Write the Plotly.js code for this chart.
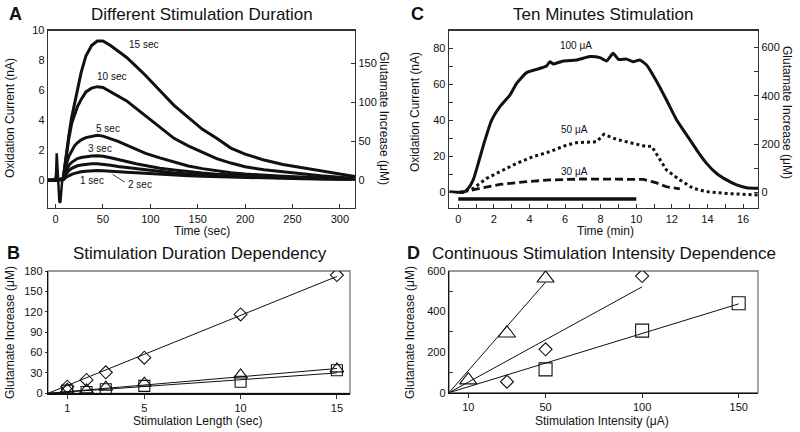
<!DOCTYPE html>
<html><head><meta charset="utf-8">
<script src="https://cdn.plot.ly/plotly-3.0.1.min.js"></script>
<style>html,body{margin:0;padding:0;background:#fff}#chart{width:800px;height:432px}</style>
</head><body><div id="chart"></div>
<script>
// ---------- Panel A: Different Stimulation Duration (nA vs sec) ----------
const timeA  = [-8, 0, 8, 11, 14, 17, 20, 23, 27, 32, 38, 44, 50, 58, 66, 75, 85, 95, 110, 125, 140, 155, 170, 185, 200, 220, 240, 260, 280, 300, 316];
const dur15  = [0, 0, 0.1, 1.6, 3.0, 4.2, 5.1, 6.2, 7.2, 8.3, 9.0, 9.3, 9.3, 9.0, 8.6, 8.2, 7.6, 7.0, 6.0, 5.0, 4.2, 3.4, 2.8, 2.15, 1.75, 1.35, 1.05, 0.85, 0.6, 0.4, 0.25];
const dur10  = [0, 0, 0.1, 1.5, 2.8, 3.8, 4.4, 4.9, 5.4, 5.9, 6.15, 6.25, 6.2, 5.9, 5.6, 5.3, 4.8, 4.3, 3.5, 2.8, 2.3, 1.85, 1.45, 1.15, 0.9, 0.7, 0.55, 0.42, 0.3, 0.2, 0.12];
const dur5   = [0, 0, 0.1, 1.0, 1.6, 2.0, 2.3, 2.5, 2.7, 2.85, 2.95, 3.0, 2.95, 2.8, 2.6, 2.35, 2.05, 1.8, 1.5, 1.2, 0.95, 0.78, 0.62, 0.5, 0.42, 0.33, 0.27, 0.22, 0.18, 0.14, 0.1];
const dur3   = [0, 0, 0.05, 0.6, 1.0, 1.2, 1.35, 1.45, 1.52, 1.58, 1.62, 1.63, 1.6, 1.5, 1.4, 1.25, 1.1, 0.98, 0.8, 0.68, 0.57, 0.48, 0.41, 0.35, 0.3, 0.25, 0.2, 0.17, 0.14, 0.12, 0.1];
const dur2   = [0, 0, 0.05, 0.4, 0.65, 0.8, 0.9, 0.97, 1.02, 1.07, 1.1, 1.1, 1.07, 1.0, 0.92, 0.85, 0.76, 0.68, 0.58, 0.49, 0.42, 0.36, 0.31, 0.27, 0.23, 0.19, 0.16, 0.13, 0.11, 0.09, 0.08];
const dur1   = [0, 0, 0.03, 0.2, 0.32, 0.4, 0.46, 0.52, 0.57, 0.61, 0.64, 0.65, 0.64, 0.62, 0.58, 0.54, 0.5, 0.46, 0.4, 0.35, 0.31, 0.27, 0.24, 0.21, 0.19, 0.16, 0.13, 0.11, 0.09, 0.07, 0.06];
const artifactT = [-0.5, 0.5, 1.2, 2.2, 3.0, 4.0, 5.0, 6.0, 7.0, 8.0];
const artifactV = [0, 0.4, 1.8, 0.4, -0.8, -1.4, -1.5, -0.6, 0, 0.1];
const durLabels = ['15 sec', '10 sec', '5 sec', '3 sec', '1 sec', '2 sec'];
const durLabelT = [93, 59, 55, 46.5, 38.8, 89];
const durLabelV = [9.07, 6.93, 3.47, 2.15, 0.0, -0.27];
const leaderT = [73, 60];
const leaderV = [-0.12, 0.4];

// ---------- Panel C: Ten Minutes Stimulation (nA vs min) ----------
const time100 = [-0.5, 0, 0.28, 0.56, 0.84, 1.12, 1.5, 1.87, 2.34, 2.9, 3.28, 3.84, 4.4, 4.96, 5.15, 5.34, 5.9, 6.65, 7.4, 7.96, 8.33, 8.7, 9.0, 9.46, 9.83, 10.2, 10.58, 11.1, 11.7, 12.27, 12.83, 13.4, 13.95, 14.5, 15.07, 15.64, 16.2, 16.85];
const cur100  = [0.4, 0, 0, 2.2, 6.9, 16, 29, 40, 47.6, 54, 60.5, 66.5, 68.3, 70.2, 72.6, 71.3, 73, 73.5, 75.4, 74.8, 73, 77.2, 73.9, 74, 72.6, 73.5, 70.7, 62.4, 51.3, 40.2, 31.9, 23.5, 16.1, 10.6, 6.9, 4.1, 2.6, 2.2];
const time50  = [0.1, 0.84, 1.6, 2.34, 3.28, 4.2, 5.15, 6.1, 6.65, 7.77, 8.18, 8.9, 9.83, 10.58, 10.86, 11.24, 11.7, 12.45, 13.2, 13.95, 15.07, 16.85];
const cur50   = [0, 2.2, 7.8, 11.5, 16.1, 19.8, 22.6, 26.3, 27.6, 28.1, 32.2, 29.4, 27.2, 25.4, 25.7, 19.8, 12.4, 6.9, 2.2, 0.4, -0.6, -1.5];
const time30  = [0.1, 1.03, 2.34, 3.84, 5.15, 7.0, 8.9, 10.4, 11.1, 11.7, 12.45];
const cur30   = [0, 1.9, 4.4, 5.9, 6.9, 7.4, 7.2, 7.2, 5.4, 3.1, 1.9];
const stimBarT = [0, 10];
const stimBarV = [-3.7, -3.7];
const intLabels = ['100 μA', '50 μA', '30 μA'];
const intLabelT = [6.6, 6.55, 6.55];
const intLabelV = [81.3, 35, 11.5];

// ---------- Panel B: Stimulation Duration Dependency ----------
const stimLength = [1, 2, 3, 5, 10, 15];
const durDiamond = [9.7, 19.6, 30.9, 52.4, 116, 174];
const durTriangle = [6, 5, 9, 15, 27, 36];
const durSquare = [4, 2, 6, 11, 17, 34];
const durFitX = [0, 15];
const durFitDiamond = [0, 172];
const durFitTriangle = [0, 36.5];
const durFitSquare = [0, 30];

// ---------- Panel D: Continuous Stimulation Intensity Dependence ----------
const triIntensity = [10, 30, 50];
const triGlu = [62, 293, 564];
const diaIntensity = [30, 50, 100];
const diaGlu = [54, 214, 575];
const sqIntensity = [50, 100, 150];
const sqGlu = [115, 306, 441];
const triFitX = [0, 50], triFitY = [0, 545];
const diaFitX = [0, 100], diaFitY = [0, 522];
const sqFitX = [0, 150], sqFitY = [0, 438];

// ---------- drawing ----------
const FONT = 'Liberation Sans, Arial, sans-serif';
const K = '#111';
const px = x => x / 800, py = y => 1 - y / 432;

const line = (x, y, xa, ya, extra) => Object.assign({x, y, xaxis: xa, yaxis: ya, mode: 'lines', type: 'scatter',
  line: {color: K, width: 3}, hoverinfo: 'skip', showlegend: false}, extra || {});
const mk = (x, y, xa, ya, sym, size) => ({x, y, xaxis: xa, yaxis: ya, mode: 'markers', type: 'scatter', showlegend: false,
  marker: {symbol: sym, size: size, color: K, line: {color: K, width: 1.1}}});

const traces = [];
// A
[dur1, dur2, dur3, dur5, dur10, dur15].forEach(v => traces.push(line(timeA, v, 'x', 'y', {line: {color: K, width: 3}})));
traces.push(line(artifactT, artifactV, 'x', 'y', {line: {color: K, width: 2.5}}));
traces.push(line(leaderT, leaderV, 'x', 'y', {line: {color: K, width: 0.8}}));
// C
traces.push(line(time100, cur100, 'x2', 'y2', {line: {color: K, width: 3, shape: 'spline', smoothing: 0.5}}));
traces.push(line(time50, cur50, 'x2', 'y2', {line: {color: K, width: 3, dash: 'dot'}}));
traces.push(line(time30, cur30, 'x2', 'y2', {line: {color: K, width: 2.8, dash: '8px,4px'}}));
traces.push(line(stimBarT, stimBarV, 'x2', 'y2', {line: {color: K, width: 3.5}}));
// B
traces.push(line(durFitX, durFitDiamond, 'x3', 'y3', {line: {color: K, width: 1}}));
traces.push(line(durFitX, durFitTriangle, 'x3', 'y3', {line: {color: K, width: 1}}));
traces.push(line(durFitX, durFitSquare, 'x3', 'y3', {line: {color: K, width: 1}}));
traces.push(mk(stimLength, durDiamond, 'x3', 'y3', 'diamond-open', 10));
traces.push(mk(stimLength, durTriangle, 'x3', 'y3', 'triangle-up-open', 12));
traces.push(mk(stimLength, durSquare, 'x3', 'y3', 'square-open', 11));
// D
traces.push(line(triFitX, triFitY, 'x4', 'y4', {line: {color: K, width: 1}}));
traces.push(line(diaFitX, diaFitY, 'x4', 'y4', {line: {color: K, width: 1}}));
traces.push(line(sqFitX, sqFitY, 'x4', 'y4', {line: {color: K, width: 1}}));
traces.push(mk(triIntensity, triGlu, 'x4', 'y4', 'triangle-up-open', 15));
traces.push(mk(diaIntensity, diaGlu, 'x4', 'y4', 'diamond-open', 10));
traces.push(mk(sqIntensity, sqGlu, 'x4', 'y4', 'square-open', 13));
// dummy traces for right axes
traces.push({x: [0], y: [0], xaxis: 'x', yaxis: 'y5', mode: 'markers', marker: {opacity: 0}, showlegend: false, hoverinfo: 'skip'});
traces.push({x: [0], y: [0], xaxis: 'x2', yaxis: 'y6', mode: 'markers', marker: {opacity: 0}, showlegend: false, hoverinfo: 'skip'});

const tickFont = {family: FONT, size: 11, color: K};
const ax = extra => Object.assign({showgrid: false, zeroline: false, showline: true, linecolor: '#333', linewidth: 1.3,
  tickfont: tickFont, ticklen: 4, tickcolor: '#333', tickwidth: 1, fixedrange: true}, extra);

const dA = {x: [px(48), px(355)], y: [py(208), py(30.5)]};
const dC = {x: [px(449), px(758)], y: [py(208), py(30.5)]};
const dB = {x: [px(48), px(350)], y: [py(393.3), py(271)]};
const dD = {x: [px(449), px(758)], y: [py(392.7), py(271)]};

const layout = {
  width: 800, height: 432, margin: {l: 0, r: 0, t: 0, b: 0}, paper_bgcolor: '#fff', plot_bgcolor: 'rgba(0,0,0,0)',
  showlegend: false, font: {family: FONT, color: K},
  xaxis: ax({domain: dA.x, anchor: 'y', range: [-8, 316], tickmode: 'array', tickvals: [0, 50, 100, 150, 200, 250, 300], ticks: 'inside', mirror: true}),
  yaxis: ax({domain: dA.y, anchor: 'x', range: [-1.85, 10], tickmode: 'array', tickvals: [0, 2, 4, 6, 8, 10], ticks: '', mirror: true}),
  yaxis5: ax({overlaying: 'y', side: 'right', anchor: 'x', range: [-35.6, 192.3], tickmode: 'array', tickvals: [0, 50, 100, 150], ticks: 'inside'}),
  xaxis2: ax({domain: dC.x, anchor: 'y2', range: [-0.52, 16.84], tickmode: 'array', tickvals: [0, 2, 4, 6, 8, 10, 12, 14, 16], ticks: 'inside', mirror: true,
    minor: {ticks: 'inside', dtick: 1, tick0: 0, ticklen: 4, tickcolor: '#333'}}),
  yaxis2: ax({domain: dC.y, anchor: 'x2', range: [-8.7, 89.9], tickmode: 'array', tickvals: [0, 20, 40, 60, 80], ticks: 'inside', mirror: true,
    minor: {ticks: 'inside', dtick: 10, tick0: 0, ticklen: 4, tickcolor: '#333'}}),
  yaxis6: ax({overlaying: 'y2', side: 'right', anchor: 'x2', range: [-64.8, 669.8], tickmode: 'array', tickvals: [0, 200, 400, 600], ticks: 'inside',
    minor: {ticks: 'inside', dtick: 100, tick0: 0, ticklen: 4, tickcolor: '#333'}}),
  xaxis3: ax({domain: dB.x, anchor: 'y3', range: [0, 15.68], tickmode: 'array', tickvals: [1, 5, 10, 15], ticks: 'outside', linecolor: K}),
  yaxis3: ax({domain: dB.y, anchor: 'x3', range: [0, 180], tickmode: 'array', tickvals: [0, 30, 60, 90, 120, 150, 180], ticks: 'outside', ticklen: 2, linecolor: K}),
  xaxis4: ax({domain: dD.x, anchor: 'y4', range: [0, 160], tickmode: 'array', tickvals: [10, 50, 100, 150], ticks: 'outside', linecolor: K}),
  yaxis4: ax({domain: dD.y, anchor: 'x4', range: [0, 600], tickmode: 'array', tickvals: [0, 200, 400, 600], ticks: 'inside', ticklen: 0, linecolor: K,
    minor: {ticks: 'inside', dtick: 200, tick0: 100, ticklen: 4, tickcolor: '#333'}}),
  shapes: [
    {type: 'rect', xref: 'paper', yref: 'paper', x0: dB.x[0], x1: dB.x[1], y0: dB.y[0], y1: dB.y[1], line: {color: '#777', width: 1.3}, layer: 'below'},
    {type: 'rect', xref: 'paper', yref: 'paper', x0: dD.x[0], x1: dD.x[1], y0: dD.y[0], y1: dD.y[1], line: {color: '#777', width: 1.3}, layer: 'below'}
  ],
  annotations: []
};

const A = layout.annotations;
const txt = (text, x, y, size, extra) => A.push(Object.assign({text, x: px(x), y: py(y), xref: 'paper', yref: 'paper', showarrow: false,
  font: {family: FONT, size, color: K}, xanchor: 'center', yanchor: 'middle'}, extra || {}));
// panel letters and titles
txt('<b>A</b>', 15, 14, 18);
txt('Different Stimulation Duration', 202, 14, 17);
txt('<b>C</b>', 417, 14, 18);
txt('Ten Minutes Stimulation', 603, 14, 17);
txt('<b>B</b>', 13, 253, 18);
txt('Stimulation Duration Dependency', 200, 253, 17);
txt('<b>D</b>', 413, 253, 18);
txt('Continuous Stimulation Intensity Dependence', 604, 253, 17);
// axis titles
txt('Oxidation Current (nA)', 10, 118, 12, {textangle: -90});
txt('Glutamate Increase (μM)', 384, 118, 12, {textangle: 90});
txt('Time (sec)', 202, 231, 12);
txt('Oxidation Current (nA)', 415, 112, 12, {textangle: -90});
txt('Glutamate Increase (μM)', 787, 112, 12, {textangle: 90});
txt('Time (min)', 605, 231, 12);
txt('Glutamate Increase (μM)', 10, 333, 12, {textangle: -90});
txt('Stimulation Length (sec)', 197, 421, 12);
txt('Glutamate Increase (μM)', 410, 332, 12, {textangle: -90});
txt('Stimulation Intensity (μA)', 602, 421, 12);
// curve labels
durLabels.forEach((t, i) => A.push({text: t, x: durLabelT[i], y: durLabelV[i], xref: 'x', yref: 'y', showarrow: false,
  font: {family: FONT, size: 10, color: K}, bgcolor: 'rgba(0,0,0,0)'}));
intLabels.forEach((t, i) => A.push({text: t, x: intLabelT[i], y: intLabelV[i], xref: 'x2', yref: 'y2', showarrow: false,
  font: {family: FONT, size: 10, color: K}}));

Plotly.newPlot('chart', traces, layout, {staticPlot: true, displayModeBar: false});
</script>
</body></html>
